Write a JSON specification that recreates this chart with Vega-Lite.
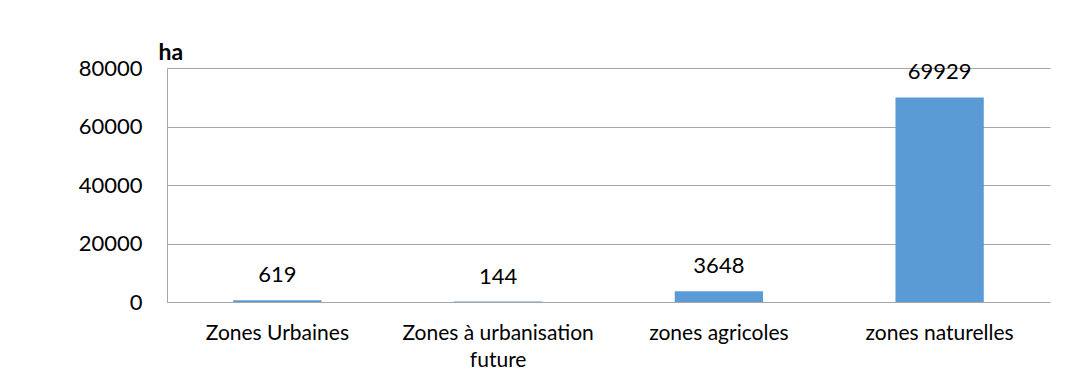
{
  "$schema": "https://vega.github.io/schema/vega-lite/v6.json",
  "autosize": "none",
  "width": 883,
  "height": 234,
  "padding": {"left": 167, "top": 68, "right": 17, "bottom": 85},
  "background": "white",
  "data": {
    "values": [
      {"zone": "Zones Urbaines", "ha": 619},
      {"zone": "Zones à urbanisation future", "ha": 144},
      {"zone": "zones agricoles", "ha": 3648},
      {"zone": "zones naturelles", "ha": 69929}
    ]
  },
  "encoding": {
    "x": {
      "field": "zone",
      "type": "nominal",
      "sort": null,
      "scale": {"paddingInner": 0.6, "paddingOuter": 0.3},
      "axis": {
        "title": null,
        "labelAngle": 0,
        "labelFont": "Lato",
        "labelFontSize": 21,
        "labelColor": "#000000",
        "labelPadding": 20,
        "labelLineHeight": 27,
        "labelLimit": 0,
        "labelExpr": "datum.value == 'Zones à urbanisation future' ? ['Zones à urbanisation', 'future'] : datum.value",
        "ticks": false,
        "domainColor": "#a6a6a6",
        "grid": false
      }
    },
    "y": {
      "field": "ha",
      "type": "quantitative",
      "scale": {"domain": [0, 80000], "nice": false},
      "axis": {
        "title": "ha",
        "titleAngle": 0,
        "titleX": -9,
        "titleY": -16,
        "titleAlign": "left",
        "titleBaseline": "middle",
        "titleFont": "Lato",
        "titleFontSize": 23,
        "titleFontWeight": "bold",
        "titleColor": "#000000",
        "values": [0, 20000, 40000, 60000, 80000],
        "format": "d",
        "labelFont": "Lato",
        "labelFontSize": 22,
        "labelColor": "#000000",
        "labelPadding": 25,
        "ticks": false,
        "domainColor": "#a6a6a6",
        "gridColor": "#a6a6a6",
        "gridWidth": 1
      }
    }
  },
  "layer": [
    {"mark": {"type": "bar", "color": "#5B9BD5"}},
    {
      "mark": {
        "type": "text",
        "baseline": "middle",
        "dy": -25,
        "font": "Lato",
        "fontSize": 22,
        "color": "#000000"
      },
      "encoding": {"text": {"field": "ha", "type": "quantitative", "format": "d"}}
    }
  ],
  "config": {"view": {"stroke": null}}
}
